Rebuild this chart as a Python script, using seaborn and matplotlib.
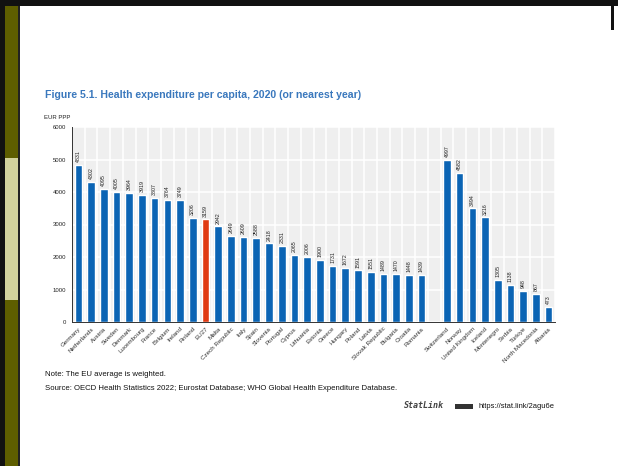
import matplotlib
matplotlib.use("Agg")
import matplotlib.pyplot as plt
import matplotlib.patches as mpatches
from matplotlib.ticker import MultipleLocator
import seaborn as sns
import pandas as pd
import numpy as np

# ---- data ----
eu_countries = ["Germany", "Netherlands", "Austria", "Sweden", "Denmark", "Luxembourg",
                "France", "Belgium", "Ireland", "Finland", "EU27", "Malta", "Czech Republic",
                "Italy", "Spain", "Slovenia", "Portugal", "Cyprus", "Lithuania", "Estonia",
                "Greece", "Hungary", "Poland", "Latvia", "Slovak Republic", "Bulgaria",
                "Croatia", "Romania"]
eu_values = [4831, 4302, 4095, 4005, 3964, 3919, 3807, 3764, 3749, 3206, 3159, 2942, 2649,
             2609, 2588, 2418, 2331, 2065, 2006, 1900, 1731, 1672, 1591, 1551, 1489, 1470,
             1448, 1439]
other_countries = ["Switzerland", "Norway", "United Kingdom", "Iceland", "Montenegro",
                   "Serbia", "Türkiye", "North Macedonia", "Albania"]
other_values = [4997, 4582, 3494, 3216, 1305, 1138, 948, 867, 473]
y_ticks = [0, 1000, 2000, 3000, 4000, 5000, 6000]

title = "Figure 5.1. Health expenditure per capita, 2020 (or nearest year)"
y_unit = "EUR PPP"
note = "Note: The EU average is weighted."
source = "Source: OECD Health Statistics 2022; Eurostat Database; WHO Global Health Expenditure Database."

GAP = " "
order = eu_countries + [GAP] + other_countries
df = pd.DataFrame({
    "country": eu_countries + other_countries,
    "value": eu_values + other_values,
})
df["kind"] = np.where(df["country"] == "EU27", "avg", "country")

BLUE = "#0b64b4"
RED = "#e03a12"

sns.set_theme(style="white")
plt.rcParams["font.family"] = ["Liberation Sans Narrow", "Liberation Sans", "DejaVu Sans"]

W, H = 618, 466
fig = plt.figure(figsize=(W / 100, H / 100), dpi=100)
fig.patch.set_facecolor("white")

# decorative slide frame
def px_rect(x0, y0, x1, y1, color, z=0):
    fig.patches.append(mpatches.Rectangle((x0 / W, 1 - y1 / H), (x1 - x0) / W, (y1 - y0) / H,
                                          transform=fig.transFigure, facecolor=color,
                                          edgecolor="none", zorder=z))
px_rect(0, 0, W, 6, "#111111")
px_rect(0, 0, 5, H, "#111111")
px_rect(5, 6, 18, H, "#5e5e00")
px_rect(5, 158, 18, 300, "#d2d29c")
px_rect(18, 6, 20, H, "#222222")
px_rect(611, 0, 614, 30, "#111111")

ax = fig.add_axes([72 / W, 1 - 322 / H, (555 - 72) / W, (322 - 127) / H])
ax.set_facecolor("#efefef")

sns.barplot(data=df, x="country", y="value", hue="kind", order=order,
            hue_order=["country", "avg"], palette={"country": BLUE, "avg": RED},
            width=0.6, dodge=False, legend=False, ax=ax, saturation=1)

for cont in ax.containers:
    ax.bar_label(cont, fmt="{:.0f}", rotation=90, padding=2, fontsize=3.8, color="#222222")

ax.set_xlim(-0.5, len(order) - 0.5)
ax.set_ylim(0, 6000)
ax.set_yticks(y_ticks)
ax.set_yticklabels([str(t) for t in y_ticks], fontsize=4.3, color="#222222")
ax.xaxis.set_minor_locator(MultipleLocator(1))
ax.set_xticks(np.arange(len(order)) + 0.5, minor=True)
ax.set_xticks(np.arange(len(order)))
ax.set_xticklabels(order, rotation=45, ha="right", rotation_mode="anchor",
                   fontsize=4.5, color="#333333")
ax.tick_params(axis="x", which="major", length=0, pad=3)
ax.tick_params(axis="x", which="minor", length=2, width=0.6, color="#333333", direction="out")
ax.tick_params(axis="y", length=2, width=0.6, color="#333333", pad=2)
ax.set_xlabel("")
ax.set_ylabel("")

ax.grid(True, axis="y", color="white", linewidth=1.1)
ax.grid(True, axis="x", which="minor", color="white", linewidth=1.1)
ax.set_axisbelow(True)
for s in ["top", "right"]:
    ax.spines[s].set_visible(False)
ax.spines["left"].set_color("#333333")
ax.spines["left"].set_linewidth(0.7)
ax.spines["bottom"].set_color("#333333")
ax.spines["bottom"].set_linewidth(0.7)

fig.text(45 / W, 1 - 95 / H, title, fontsize=7.6, fontweight="bold", color="#3a78bd",
         va="center", ha="left")
fig.text(44 / W, 1 - 117 / H, y_unit, fontsize=4.3, color="#222222", va="center", ha="left")
fig.text(45 / W, 1 - 375 / H, note, fontsize=5.6, color="#111111", va="center", ha="left")
fig.text(45 / W, 1 - 388 / H, source, fontsize=5.6, color="#111111", va="center", ha="left")
fig.text(404 / W, 1 - 406 / H, "StatLink", fontsize=6, fontweight="bold", style="italic",
         family=["DejaVu Sans Mono", "DejaVu Sans"], color="#444444", va="center", ha="left")
fig.text(479 / W, 1 - 406 / H, "https://stat.link/2agu6e", fontsize=5.4, color="#111111",
         va="center", ha="left")
fig.patches.append(mpatches.FancyBboxPatch((455 / W, 1 - 409 / H), 18 / W, 5 / H,
                                           boxstyle="round,pad=0", transform=fig.transFigure,
                                           facecolor="#333333", edgecolor="none"))

fig.savefig("out.png", dpi=100, facecolor="white")
